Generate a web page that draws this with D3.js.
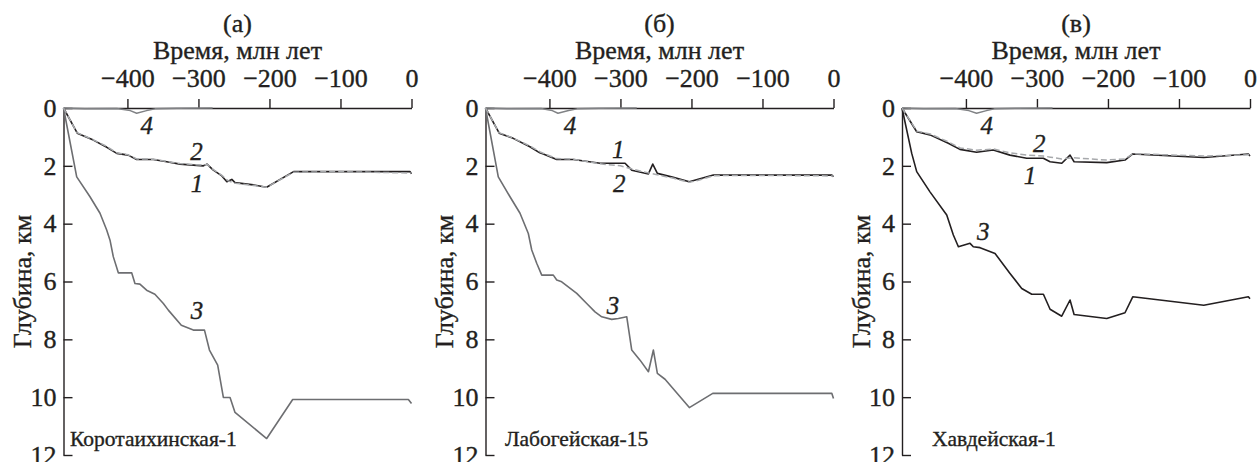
<!DOCTYPE html>
<html>
<head>
<meta charset="utf-8">
<script src="https://cdn.jsdelivr.net/npm/d3@7/dist/d3.min.js"></script>
<style>
  html, body { margin: 0; padding: 0; background: #fff; }
  svg { display: block; }
</style>
</head>
<body>
<svg id="chart" width="1259" height="462"></svg>
<script>
// Burial history curves for three wells: time (Ma) vs depth (km)
const panelLetters = ["(а)", "(б)", "(в)"];
const wellNames = ["Коротаихинская-1", "Лабогейская-15", "Хавдейская-1"];
const timeTicks = [-400, -300, -200, -100, 0];
const depthTicks = [0, 2, 4, 6, 8, 10, 12];
const curveIds = ["1", "2", "3", "4"];

// Коротаихинская-1
const korot1 = [[-490,0],[-470.6,0.87],[-448,1.11],[-429,1.36],[-415,1.57],[-399,1.63],[-387,1.78],[-363.5,1.78],[-344.6,1.86],[-326,1.94],[-293,2.0],[-288,1.94],[-279,2.15],[-267,2.35],[-260,2.55],[-253,2.47],[-248.5,2.58],[-222.7,2.66],[-204,2.74],[-166,2.2],[-2,2.2],[0,2.28]];
const korot2 = [[-490,0],[-471,0.85],[-448,1.1],[-429,1.33],[-415,1.55],[-399,1.62],[-387,1.76],[-363,1.77],[-345,1.85],[-326,1.92],[-293,1.98],[-288,1.95],[-279,2.13],[-267,2.33],[-258,2.52],[-248,2.6],[-223,2.68],[-204,2.74],[-166,2.22],[-100,2.2],[0,2.25]];
const korot3 = [[-490,0],[-471.4,2.38],[-452.7,3.07],[-438.6,3.64],[-429.2,4.22],[-424.5,4.57],[-419.9,5.14],[-412.8,5.7],[-394,5.7],[-389.4,6.07],[-382.4,6.09],[-373,6.3],[-361.3,6.44],[-349.4,6.76],[-342.4,6.99],[-324.1,7.51],[-307.2,7.68],[-291.5,7.68],[-284.5,8.37],[-272.9,8.89],[-264.9,10.01],[-255.5,10.01],[-248.5,10.53],[-203.9,11.43],[-167.3,10.08],[-4.4,10.08],[0,10.22]];
const korot4 = [[-490,0],[-460,0.03],[-415,0.02],[-396,0.09],[-387,0.18],[-373,0.09],[-361,0.03],[-330,0.01],[-280,0]];

// Лабогейская-15
const labog1 = [[-490,0],[-470.7,0.87],[-451,1.05],[-427.5,1.34],[-413.5,1.55],[-408.6,1.59],[-389.7,1.78],[-366.3,1.78],[-328.7,1.91],[-293.5,1.91],[-284.1,2.15],[-260.6,2.28],[-254.5,1.94],[-248,2.26],[-225.5,2.4],[-203,2.55],[-169.2,2.32],[-2.3,2.32],[0,2.38]];
const labog2 = [[-490,0],[-471,0.85],[-451,1.04],[-427,1.32],[-413,1.52],[-390,1.75],[-366,1.77],[-329,1.93],[-300,2.0],[-280,2.13],[-260,2.25],[-250,2.3],[-225,2.43],[-203,2.57],[-190,2.5],[-169,2.34],[-100,2.33],[0,2.35]];
const labog3 = [[-490,0],[-472,2.38],[-455.5,3.07],[-441.4,3.64],[-429.7,4.34],[-424.9,4.91],[-417.9,5.37],[-410.8,5.78],[-394.5,5.78],[-389.7,5.95],[-382.7,6.01],[-361.5,6.41],[-347.5,6.76],[-335.8,7.05],[-326.3,7.22],[-312.3,7.31],[-302.9,7.28],[-291.1,7.22],[-284.1,8.37],[-272.4,8.72],[-260.6,9.12],[-253.6,8.37],[-248,9.18],[-237.2,9.38],[-203,10.36],[-170,9.87],[-2.3,9.87],[0,10.05]];
const labog4 = [[-490,0],[-460,0.03],[-412,0.02],[-396,0.09],[-388,0.18],[-373,0.09],[-361,0.03],[-330,0.01],[-277,0]];

// Хавдейская-1
const khav1 = [[-490,0],[-469.3,0.82],[-450.6,0.93],[-424.8,1.22],[-408.5,1.43],[-385,1.53],[-361.5,1.45],[-338,1.63],[-314.4,1.74],[-291,1.74],[-281.5,1.86],[-265,1.91],[-253.4,1.63],[-247.7,1.86],[-201.7,1.89],[-176,1.8],[-165.1,1.59],[-65.1,1.71],[-2.3,1.59],[0,1.66]];
const khav2 = [[-490,0],[-469,0.8],[-450,0.9],[-425,1.17],[-408,1.38],[-385,1.46],[-361,1.42],[-338,1.55],[-314,1.63],[-291,1.66],[-281,1.7],[-265,1.76],[-250,1.72],[-202,1.8],[-176,1.76],[-165,1.58],[-65,1.66],[0,1.62]];
const khav3 = [[-490,0],[-476.3,1.57],[-469.3,2.2],[-450.6,2.9],[-427,3.7],[-417.7,4.39],[-410.6,4.8],[-394.2,4.68],[-389.6,4.8],[-380.1,4.83],[-359,5.03],[-337.9,5.72],[-321.4,6.24],[-307.3,6.44],[-290.9,6.44],[-281.5,6.96],[-265.1,7.2],[-253.4,6.64],[-247.7,7.14],[-201.7,7.28],[-176,7.08],[-165.1,6.53],[-65.1,6.82],[-2.3,6.53],[0,6.6]];
const khav4 = [[-490,0],[-460,0.03],[-415,0.02],[-396,0.09],[-385,0.18],[-371,0.09],[-360,0.03],[-330,0.01],[-278,0]];

// Curve number tags placed at [time, depth]
const korotTags = [[-302,2.6],[-302.7,1.5],[-302,7.02],[-372.8,0.59]];
const labogTags = [[-303,1.45],[-301.5,2.6],[-310.4,6.82],[-371,0.59]];
const khavTags  = [[-309.7,2.32],[-296.6,1.22],[-375.5,4.28],[-370.8,0.59]];

const wells = [
  { letter: panelLetters[0], name: wellNames[0], curves: [korot1, korot2, korot3, korot4], tags: korotTags },
  { letter: panelLetters[1], name: wellNames[1], curves: [labog1, labog2, labog3, labog4], tags: labogTags },
  { letter: panelLetters[2], name: wellNames[2], curves: [khav1, khav2, khav3, khav4], tags: khavTags }
];

// Layout
const panelLeft = [63.5, 485.5, 902];
const nameOffset = [6.5, 19.5, 30];
const plotW = 348, plotTop = 108, plotBottom = 455;
const ink = "#231f20";
const serif = '"Liberation Serif"';
const curveStyle = [
  { stroke: ink, width: 1.6, dash: null },
  { stroke: "#a7a9ac", width: 1.5, dash: "6,3" },
  null, // set per panel
  { stroke: "#808285", width: 1.5, dash: null }
];

const svg = d3.select("#chart");

// serif text with a hairline outline for a print-like weight
function styleText(sel, size) {
  return sel.style("font-family", serif).style("font-size", size + "px").style("fill", ink)
    .style("stroke", ink).style("stroke-width", "0.35px");
}

wells.forEach((w, i) => {
  const x0 = panelLeft[i];
  const x = d3.scaleLinear().domain([-490, 0]).range([x0, x0 + plotW]);
  const y = d3.scaleLinear().domain([0, 12]).range([plotTop, plotBottom]);
  const g = svg.append("g");

  // top time axis
  const xAxis = d3.axisTop(x).tickValues(timeTicks).tickSize(9).tickSizeOuter(0).tickPadding(12)
    .tickFormat(d3.format("d"));
  const gx = g.append("g").attr("transform", `translate(0,${plotTop})`).call(xAxis);
  gx.attr("font-family", null).attr("font-size", null);
  gx.selectAll("path, line").attr("stroke", ink).attr("stroke-width", 1.4);
  styleText(gx.selectAll("text"), 26);

  // left depth axis with inward ticks
  const yAxis = d3.axisLeft(y).tickValues(depthTicks).tickSize(-9).tickSizeOuter(0).tickPadding(7)
    .tickFormat(d3.format("d"));
  const gy = g.append("g").attr("transform", `translate(${x0},0)`).call(yAxis);
  gy.attr("font-family", null).attr("font-size", null);
  gy.selectAll("path, line").attr("stroke", ink).attr("stroke-width", 1.4);
  styleText(gy.selectAll("text"), 26);

  // titles
  styleText(g.append("text").attr("x", x0 + plotW / 2).attr("y", 32).attr("text-anchor", "middle"), 26)
    .text(w.letter);
  styleText(g.append("text").attr("x", x0 + plotW / 2).attr("y", 59).attr("text-anchor", "middle"), 26)
    .text("Время, млн лет");
  styleText(g.append("text")
    .attr("transform", `translate(${x0 - 41},${(plotTop + plotBottom) / 2}) rotate(-90)`)
    .attr("text-anchor", "middle").attr("dominant-baseline", "central"), 26)
    .text("Глубина, км");

  // curves
  const line = d3.line().x(d => x(d[0])).y(d => y(d[1]));
  const order = [0, 2, 3, 1];
  order.forEach(k => {
    let st = curveStyle[k];
    if (k === 2) st = { stroke: i === 2 ? ink : "#6d6e71", width: 1.6, dash: null };
    g.append("path").datum(w.curves[k])
      .attr("d", line)
      .attr("fill", "none")
      .attr("stroke", st.stroke)
      .attr("stroke-width", st.width)
      .attr("stroke-linejoin", "round")
      .attr("stroke-dasharray", st.dash);
  });

  // curve number tags
  w.tags.forEach((t, k) => {
    styleText(g.append("text").attr("x", x(t[0])).attr("y", y(t[1]))
      .attr("text-anchor", "middle").attr("dominant-baseline", "central")
      .style("font-style", "italic"), 25)
      .text(curveIds[k]);
  });

  // well name
  styleText(g.append("text").attr("x", x0 + nameOffset[i]).attr("y", 445.5), 21.5)
    .text(w.name);
});
</script>
</body>
</html>
